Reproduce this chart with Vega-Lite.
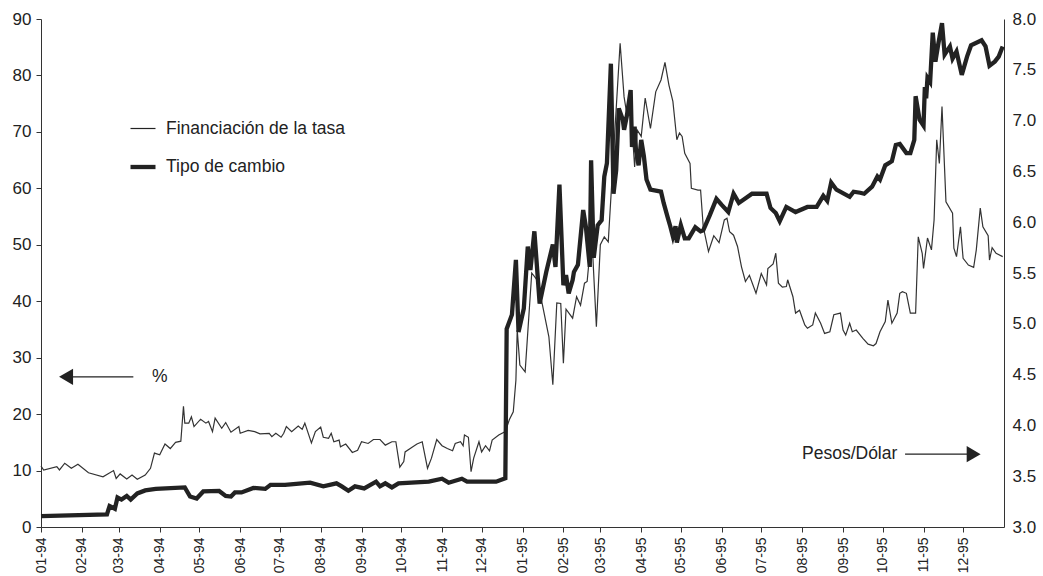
{
  "$schema": "https://vega.github.io/schema/vega-lite/v6.json",
  "width": 963,
  "height": 508,
  "autosize": {"type": "none"},
  "padding": {"left": 41, "top": 19, "right": 39, "bottom": 49},
  "background": "white",
  "config": {
    "view": {"stroke": null},
    "font": "Liberation Sans",
    "axis": {"labelFont": "Liberation Sans", "labelColor": "#222", "domainColor": "#333", "tickColor": "#333", "grid": false, "title": null}
  },
  "datasets": {
    "tasa": [
      {"date":"1994-01-01","v":10.8},{"date":"1994-01-03","v":10.1},{"date":"1994-01-13","v":10.7},{"date":"1994-01-15","v":10.1},{"date":"1994-01-19","v":11.3},{"date":"1994-01-24","v":10.4},{"date":"1994-01-29","v":11.1},{"date":"1994-02-06","v":9.6},{"date":"1994-02-17","v":8.9},{"date":"1994-02-25","v":10.0},{"date":"1994-02-27","v":8.6},{"date":"1994-03-02","v":9.4},{"date":"1994-03-07","v":8.5},{"date":"1994-03-11","v":9.2},{"date":"1994-03-15","v":8.45},{"date":"1994-03-21","v":9.2},{"date":"1994-03-25","v":10.4},{"date":"1994-03-28","v":13.1},{"date":"1994-04-01","v":12.8},{"date":"1994-04-05","v":14.7},{"date":"1994-04-09","v":13.9},{"date":"1994-04-13","v":15.0},{"date":"1994-04-17","v":15.2},{"date":"1994-04-19","v":21.4},{"date":"1994-04-20","v":18.4},{"date":"1994-04-23","v":18.4},{"date":"1994-04-25","v":19.5},{"date":"1994-04-27","v":17.8},{"date":"1994-05-02","v":19.1},{"date":"1994-05-06","v":18.4},{"date":"1994-05-08","v":18.7},{"date":"1994-05-11","v":16.9},{"date":"1994-05-13","v":19.3},{"date":"1994-05-18","v":17.5},{"date":"1994-05-21","v":18.5},{"date":"1994-05-25","v":16.8},{"date":"1994-05-31","v":17.8},{"date":"1994-06-01","v":16.6},{"date":"1994-06-07","v":17.1},{"date":"1994-06-12","v":16.9},{"date":"1994-06-16","v":16.5},{"date":"1994-06-23","v":16.6},{"date":"1994-06-25","v":16.0},{"date":"1994-06-28","v":16.6},{"date":"1994-07-02","v":15.9},{"date":"1994-07-04","v":16.6},{"date":"1994-07-06","v":17.8},{"date":"1994-07-10","v":16.9},{"date":"1994-07-15","v":17.9},{"date":"1994-07-18","v":17.3},{"date":"1994-07-20","v":18.4},{"date":"1994-07-25","v":14.9},{"date":"1994-07-28","v":16.9},{"date":"1994-08-01","v":17.7},{"date":"1994-08-03","v":15.9},{"date":"1994-08-07","v":15.7},{"date":"1994-08-09","v":16.6},{"date":"1994-08-11","v":15.1},{"date":"1994-08-15","v":15.4},{"date":"1994-08-16","v":14.2},{"date":"1994-08-20","v":14.7},{"date":"1994-08-25","v":13.2},{"date":"1994-08-29","v":13.6},{"date":"1994-09-01","v":15.1},{"date":"1994-09-06","v":14.8},{"date":"1994-09-10","v":15.5},{"date":"1994-09-15","v":15.5},{"date":"1994-09-19","v":14.5},{"date":"1994-09-24","v":15.1},{"date":"1994-09-27","v":15.1},{"date":"1994-09-30","v":10.6},{"date":"1994-10-03","v":11.6},{"date":"1994-10-04","v":13.3},{"date":"1994-10-09","v":14.1},{"date":"1994-10-13","v":14.7},{"date":"1994-10-17","v":15.1},{"date":"1994-10-21","v":10.4},{"date":"1994-10-24","v":12.2},{"date":"1994-10-28","v":15.5},{"date":"1994-11-01","v":14.4},{"date":"1994-11-05","v":13.9},{"date":"1994-11-09","v":13.5},{"date":"1994-11-11","v":14.8},{"date":"1994-11-15","v":15.1},{"date":"1994-11-17","v":14.4},{"date":"1994-11-18","v":16.3},{"date":"1994-11-21","v":15.9},{"date":"1994-11-23","v":9.8},{"date":"1994-11-25","v":12.2},{"date":"1994-11-29","v":15.1},{"date":"1994-12-01","v":13.3},{"date":"1994-12-04","v":14.4},{"date":"1994-12-07","v":13.5},{"date":"1994-12-09","v":15.4},{"date":"1994-12-14","v":16.3},{"date":"1994-12-19","v":16.9},{"date":"1994-12-22","v":19.0},{"date":"1994-12-25","v":20.4},{"date":"1994-12-27","v":26.0},{"date":"1994-12-28","v":34.9},{"date":"1994-12-30","v":28.7},{"date":"1995-01-03","v":27.5},{"date":"1995-01-08","v":45.0},{"date":"1995-01-12","v":43.8},{"date":"1995-01-16","v":39.5},{"date":"1995-01-21","v":33.7},{"date":"1995-01-24","v":25.2},{"date":"1995-01-27","v":39.7},{"date":"1995-01-30","v":39.6},{"date":"1995-02-01","v":29.0},{"date":"1995-02-03","v":38.6},{"date":"1995-02-08","v":37.0},{"date":"1995-02-11","v":40.8},{"date":"1995-02-14","v":39.3},{"date":"1995-02-17","v":43.2},{"date":"1995-02-19","v":43.5},{"date":"1995-02-21","v":48.5},{"date":"1995-02-23","v":49.4},{"date":"1995-02-26","v":35.5},{"date":"1995-03-01","v":50.0},{"date":"1995-03-04","v":51.4},{"date":"1995-03-07","v":50.5},{"date":"1995-03-11","v":66.2},{"date":"1995-03-16","v":85.7},{"date":"1995-03-19","v":76.2},{"date":"1995-03-21","v":73.3},{"date":"1995-03-24","v":74.5},{"date":"1995-03-27","v":63.8},{"date":"1995-03-29","v":70.3},{"date":"1995-04-01","v":69.2},{"date":"1995-04-04","v":76.0},{"date":"1995-04-08","v":70.6},{"date":"1995-04-12","v":77.1},{"date":"1995-04-16","v":79.2},{"date":"1995-04-19","v":82.3},{"date":"1995-04-22","v":78.3},{"date":"1995-04-25","v":75.4},{"date":"1995-04-28","v":68.6},{"date":"1995-04-30","v":69.8},{"date":"1995-05-02","v":69.2},{"date":"1995-05-04","v":66.2},{"date":"1995-05-08","v":64.4},{"date":"1995-05-09","v":60.0},{"date":"1995-05-14","v":59.7},{"date":"1995-05-16","v":59.7},{"date":"1995-05-18","v":53.2},{"date":"1995-05-22","v":48.8},{"date":"1995-05-26","v":51.6},{"date":"1995-05-30","v":50.4},{"date":"1995-06-03","v":54.4},{"date":"1995-06-05","v":54.7},{"date":"1995-06-07","v":52.3},{"date":"1995-06-10","v":51.7},{"date":"1995-06-13","v":49.7},{"date":"1995-06-16","v":46.1},{"date":"1995-06-19","v":43.5},{"date":"1995-06-22","v":44.6},{"date":"1995-06-27","v":41.4},{"date":"1995-07-01","v":44.9},{"date":"1995-07-05","v":42.9},{"date":"1995-07-06","v":45.8},{"date":"1995-07-10","v":46.6},{"date":"1995-07-12","v":48.5},{"date":"1995-07-14","v":43.2},{"date":"1995-07-17","v":42.5},{"date":"1995-07-20","v":42.6},{"date":"1995-07-21","v":43.8},{"date":"1995-07-25","v":40.8},{"date":"1995-07-27","v":37.9},{"date":"1995-07-30","v":38.4},{"date":"1995-08-03","v":35.8},{"date":"1995-08-05","v":35.2},{"date":"1995-08-09","v":35.8},{"date":"1995-08-11","v":37.9},{"date":"1995-08-15","v":36.1},{"date":"1995-08-18","v":34.3},{"date":"1995-08-22","v":34.6},{"date":"1995-08-25","v":37.6},{"date":"1995-08-30","v":37.9},{"date":"1995-09-01","v":34.9},{"date":"1995-09-03","v":34.0},{"date":"1995-09-06","v":36.1},{"date":"1995-09-08","v":34.6},{"date":"1995-09-11","v":34.9},{"date":"1995-09-16","v":33.4},{"date":"1995-09-20","v":32.4},{"date":"1995-09-24","v":32.1},{"date":"1995-09-26","v":32.5},{"date":"1995-09-29","v":34.6},{"date":"1995-10-03","v":36.4},{"date":"1995-10-05","v":40.2},{"date":"1995-10-08","v":36.1},{"date":"1995-10-12","v":37.9},{"date":"1995-10-14","v":41.4},{"date":"1995-10-16","v":41.7},{"date":"1995-10-19","v":41.4},{"date":"1995-10-22","v":37.9},{"date":"1995-10-26","v":37.9},{"date":"1995-10-28","v":51.4},{"date":"1995-10-31","v":48.5},{"date":"1995-11-01","v":45.8},{"date":"1995-11-04","v":51.2},{"date":"1995-11-07","v":49.1},{"date":"1995-11-09","v":54.4},{"date":"1995-11-11","v":68.6},{"date":"1995-11-13","v":64.4},{"date":"1995-11-15","v":74.5},{"date":"1995-11-18","v":57.6},{"date":"1995-11-23","v":55.6},{"date":"1995-11-24","v":49.4},{"date":"1995-11-26","v":47.9},{"date":"1995-11-29","v":53.2},{"date":"1995-12-01","v":47.6},{"date":"1995-12-05","v":46.4},{"date":"1995-12-09","v":46.0},{"date":"1995-12-11","v":49.1},{"date":"1995-12-14","v":56.5},{"date":"1995-12-16","v":53.2},{"date":"1995-12-20","v":51.6},{"date":"1995-12-21","v":47.3},{"date":"1995-12-23","v":49.5},{"date":"1995-12-26","v":48.5},{"date":"1995-12-31","v":47.9}
    ],
    "tc": [
      {"date":"1994-01-01","r":3.108},{"date":"1994-02-20","r":3.125},{"date":"1994-02-22","r":3.207},{"date":"1994-02-26","r":3.18},{"date":"1994-02-28","r":3.29},{"date":"1994-03-03","r":3.27},{"date":"1994-03-07","r":3.305},{"date":"1994-03-10","r":3.27},{"date":"1994-03-15","r":3.33},{"date":"1994-03-21","r":3.36},{"date":"1994-03-29","r":3.375},{"date":"1994-04-20","r":3.39},{"date":"1994-04-24","r":3.30},{"date":"1994-04-29","r":3.28},{"date":"1994-05-04","r":3.35},{"date":"1994-05-16","r":3.355},{"date":"1994-05-21","r":3.305},{"date":"1994-05-25","r":3.30},{"date":"1994-05-28","r":3.34},{"date":"1994-06-02","r":3.34},{"date":"1994-06-11","r":3.385},{"date":"1994-06-20","r":3.375},{"date":"1994-06-24","r":3.415},{"date":"1994-07-05","r":3.415},{"date":"1994-07-24","r":3.436},{"date":"1994-08-03","r":3.40},{"date":"1994-08-13","r":3.43},{"date":"1994-08-17","r":3.40},{"date":"1994-08-22","r":3.357},{"date":"1994-08-27","r":3.40},{"date":"1994-09-03","r":3.38},{"date":"1994-09-12","r":3.446},{"date":"1994-09-15","r":3.40},{"date":"1994-09-19","r":3.43},{"date":"1994-09-24","r":3.39},{"date":"1994-09-29","r":3.43},{"date":"1994-10-22","r":3.446},{"date":"1994-11-01","r":3.475},{"date":"1994-11-06","r":3.436},{"date":"1994-11-16","r":3.475},{"date":"1994-11-20","r":3.446},{"date":"1994-12-12","r":3.446},{"date":"1994-12-19","r":3.48},{"date":"1994-12-20","r":4.95},{"date":"1994-12-24","r":5.09},{"date":"1994-12-27","r":5.63},{"date":"1994-12-29","r":4.92},{"date":"1995-01-02","r":5.15},{"date":"1995-01-05","r":5.76},{"date":"1995-01-07","r":5.53},{"date":"1995-01-10","r":5.91},{"date":"1995-01-14","r":5.20},{"date":"1995-01-19","r":5.51},{"date":"1995-01-24","r":5.78},{"date":"1995-01-26","r":5.56},{"date":"1995-01-29","r":6.37},{"date":"1995-02-01","r":5.38},{"date":"1995-02-03","r":5.48},{"date":"1995-02-05","r":5.30},{"date":"1995-02-08","r":5.43},{"date":"1995-02-09","r":5.51},{"date":"1995-02-12","r":5.58},{"date":"1995-02-16","r":6.12},{"date":"1995-02-18","r":5.96},{"date":"1995-02-21","r":5.56},{"date":"1995-02-22","r":6.61},{"date":"1995-02-24","r":5.65},{"date":"1995-02-27","r":5.97},{"date":"1995-03-02","r":6.02},{"date":"1995-03-04","r":6.45},{"date":"1995-03-06","r":6.58},{"date":"1995-03-09","r":7.56},{"date":"1995-03-11","r":6.28},{"date":"1995-03-13","r":6.51},{"date":"1995-03-15","r":7.12},{"date":"1995-03-18","r":7.01},{"date":"1995-03-19","r":6.91},{"date":"1995-03-21","r":7.04},{"date":"1995-03-24","r":7.30},{"date":"1995-03-25","r":6.74},{"date":"1995-03-27","r":6.94},{"date":"1995-03-28","r":6.71},{"date":"1995-03-30","r":6.56},{"date":"1995-04-01","r":6.81},{"date":"1995-04-03","r":6.65},{"date":"1995-04-05","r":6.42},{"date":"1995-04-08","r":6.32},{"date":"1995-04-16","r":6.30},{"date":"1995-04-18","r":6.19},{"date":"1995-04-21","r":6.05},{"date":"1995-04-23","r":5.96},{"date":"1995-04-25","r":5.86},{"date":"1995-04-27","r":5.96},{"date":"1995-04-28","r":5.80},{"date":"1995-05-01","r":5.97},{"date":"1995-05-04","r":5.84},{"date":"1995-05-07","r":5.84},{"date":"1995-05-12","r":5.95},{"date":"1995-05-16","r":5.91},{"date":"1995-05-18","r":5.92},{"date":"1995-05-23","r":6.07},{"date":"1995-05-28","r":6.23},{"date":"1995-06-01","r":6.17},{"date":"1995-06-06","r":6.10},{"date":"1995-06-10","r":6.28},{"date":"1995-06-14","r":6.19},{"date":"1995-06-24","r":6.28},{"date":"1995-07-05","r":6.28},{"date":"1995-07-08","r":6.14},{"date":"1995-07-12","r":6.09},{"date":"1995-07-15","r":6.01},{"date":"1995-07-20","r":6.15},{"date":"1995-07-27","r":6.10},{"date":"1995-08-05","r":6.15},{"date":"1995-08-12","r":6.15},{"date":"1995-08-17","r":6.26},{"date":"1995-08-20","r":6.21},{"date":"1995-08-23","r":6.39},{"date":"1995-08-27","r":6.32},{"date":"1995-09-06","r":6.25},{"date":"1995-09-09","r":6.30},{"date":"1995-09-14","r":6.29},{"date":"1995-09-17","r":6.28},{"date":"1995-09-23","r":6.35},{"date":"1995-09-27","r":6.45},{"date":"1995-09-29","r":6.42},{"date":"1995-10-03","r":6.56},{"date":"1995-10-08","r":6.60},{"date":"1995-10-11","r":6.76},{"date":"1995-10-14","r":6.77},{"date":"1995-10-19","r":6.68},{"date":"1995-10-22","r":6.68},{"date":"1995-10-25","r":6.81},{"date":"1995-10-26","r":7.24},{"date":"1995-10-29","r":7.01},{"date":"1995-11-01","r":6.95},{"date":"1995-11-02","r":7.33},{"date":"1995-11-03","r":7.22},{"date":"1995-11-04","r":7.42},{"date":"1995-11-06","r":7.38},{"date":"1995-11-08","r":7.865},{"date":"1995-11-10","r":7.58},{"date":"1995-11-12","r":7.74},{"date":"1995-11-15","r":7.96},{"date":"1995-11-17","r":7.65},{"date":"1995-11-21","r":7.73},{"date":"1995-11-23","r":7.61},{"date":"1995-11-26","r":7.68},{"date":"1995-11-30","r":7.45},{"date":"1995-12-04","r":7.63},{"date":"1995-12-07","r":7.74},{"date":"1995-12-15","r":7.79},{"date":"1995-12-18","r":7.73},{"date":"1995-12-21","r":7.54},{"date":"1995-12-25","r":7.58},{"date":"1995-12-28","r":7.63},{"date":"1995-12-31","r":7.73}
    ],
    "notes": [
      {"date":"1994-04-01","v":26.6,"label":"%"},
      {"date":"1995-09-06","v":12.9,"label":"Pesos/Dólar"}
    ],
    "shafts": [
      {"date":"1994-01-22","date2":"1994-03-12","v":26.6},
      {"date":"1995-10-18","date2":"1995-12-04","v":12.9}
    ],
    "heads": [
      {"date":"1994-01-20","v":26.6,"dir":"izq"},
      {"date":"1995-12-09","v":12.9,"dir":"der"}
    ]
  },
  "resolve": {"scale": {"y": "independent"}, "axis": {"y": "independent"}},
  "layer": [
    {
      "layer": [
        {
          "data": {"name": "tasa"},
          "transform": [{"calculate": "'Financiación de la tasa'", "as": "serie"}],
          "mark": {"type": "line", "color": "#333", "interpolate": "linear"},
          "encoding": {
            "x": {"field": "date", "type": "temporal",
                  "scale": {"type": "utc", "domain": [{"year":1994,"month":1,"date":1,"utc":true},{"year":1996,"month":1,"date":1,"utc":true}]},
                  "axis": {"format": "%m-%y", "labelAngle": -90, "labelFontSize": 14, "tickSize": 5, "labelPadding": 5, "labelOverlap": false, "labelFlush": false,
                    "values": [
                      {"year":1994,"month":1,"date":1,"utc":true},{"year":1994,"month":2,"date":1,"utc":true},{"year":1994,"month":3,"date":1,"utc":true},{"year":1994,"month":4,"date":1,"utc":true},{"year":1994,"month":5,"date":1,"utc":true},{"year":1994,"month":6,"date":1,"utc":true},{"year":1994,"month":7,"date":1,"utc":true},{"year":1994,"month":8,"date":1,"utc":true},{"year":1994,"month":9,"date":1,"utc":true},{"year":1994,"month":10,"date":1,"utc":true},{"year":1994,"month":11,"date":1,"utc":true},{"year":1994,"month":12,"date":1,"utc":true},
                      {"year":1995,"month":1,"date":1,"utc":true},{"year":1995,"month":2,"date":1,"utc":true},{"year":1995,"month":3,"date":1,"utc":true},{"year":1995,"month":4,"date":1,"utc":true},{"year":1995,"month":5,"date":1,"utc":true},{"year":1995,"month":6,"date":1,"utc":true},{"year":1995,"month":7,"date":1,"utc":true},{"year":1995,"month":8,"date":1,"utc":true},{"year":1995,"month":9,"date":1,"utc":true},{"year":1995,"month":10,"date":1,"utc":true},{"year":1995,"month":11,"date":1,"utc":true},{"year":1995,"month":12,"date":1,"utc":true}
                    ]}},
            "y": {"field": "v", "type": "quantitative", "scale": {"domain": [0, 90], "nice": false},
                  "axis": {"orient": "left", "values": [0,10,20,30,40,50,60,70,80,90], "labelFontSize": 17, "tickSize": 5, "labelPadding": 5}},
            "strokeWidth": {"field": "serie", "type": "ordinal",
                  "scale": {"domain": ["Financiación de la tasa", "Tipo de cambio"], "range": [1.2, 4.3]},
                  "legend": {"orient": "none", "legendX": 87, "legendY": 96, "title": null, "labelFontSize": 17.5, "labelFont": "Liberation Sans", "labelColor": "#222", "labelLimit": 400, "symbolType": "stroke", "symbolSize": 625, "symbolStrokeColor": "#222", "rowPadding": 15, "labelOffset": 8}}
          }
        },
        {
          "data": {"name": "notes"},
          "mark": {"type": "text", "fontSize": 17.5, "font": "Liberation Sans", "color": "#222", "baseline": "middle", "align": "center"},
          "encoding": {
            "x": {"field": "date", "type": "temporal"},
            "y": {"field": "v", "type": "quantitative"},
            "text": {"field": "label"}
          }
        },
        {
          "data": {"name": "shafts"},
          "mark": {"type": "rule", "color": "#222", "strokeWidth": 1.2},
          "encoding": {
            "x": {"field": "date", "type": "temporal"},
            "x2": {"field": "date2"},
            "y": {"field": "v", "type": "quantitative"}
          }
        },
        {
          "data": {"name": "heads"},
          "mark": {"type": "point", "filled": true, "color": "#222", "size": 260, "opacity": 1},
          "encoding": {
            "x": {"field": "date", "type": "temporal"},
            "y": {"field": "v", "type": "quantitative"},
            "shape": {"field": "dir", "type": "nominal", "scale": {"domain": ["izq", "der"], "range": ["triangle-left", "triangle-right"]}, "legend": null}
          }
        }
      ]
    },
    {
      "data": {"name": "tc"},
      "transform": [{"calculate": "'Tipo de cambio'", "as": "serie"}],
      "mark": {"type": "line", "color": "#222", "interpolate": "linear"},
      "encoding": {
        "x": {"field": "date", "type": "temporal"},
        "y": {"field": "r", "type": "quantitative", "scale": {"domain": [3, 8], "nice": false, "zero": false},
              "axis": {"orient": "right", "values": [3,3.5,4,4.5,5,5.5,6,6.5,7,7.5,8], "format": ".1f", "labelFontSize": 17, "ticks": false, "labelPadding": 8}},
        "strokeWidth": {"field": "serie", "type": "ordinal"}
      }
    }
  ]
}
